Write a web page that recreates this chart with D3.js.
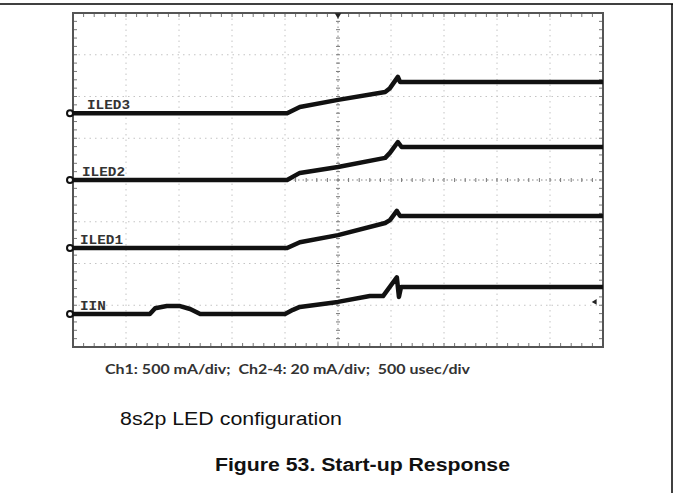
<!DOCTYPE html>
<html><head><meta charset="utf-8">
<script src="https://cdn.jsdelivr.net/npm/d3@7"></script>
<style>html,body{margin:0;padding:0;background:#fff;}svg{display:block;}</style>
</head><body><svg id="c" width="677" height="493"></svg>
<script>
// time in divisions (500 usec/div), level in divisions from screen centre
const channels = ["ILED3", "ILED2", "ILED1", "IIN"];
const iled3T = [0, 4.04, 4.28, 5.0, 5.89, 5.98, 6.13, 6.17, 10];
const iled3V = [1.6, 1.6, 1.75, 1.92, 2.11, 2.2, 2.47, 2.35, 2.35];
const iled2T = [0, 4.04, 4.28, 5.0, 5.89, 5.98, 6.13, 6.2, 10];
const iled2V = [0, 0, 0.17, 0.31, 0.53, 0.65, 0.91, 0.79, 0.79];
const iled1T = [0, 4.04, 4.28, 5.0, 5.89, 5.98, 6.11, 6.17, 10];
const iled1V = [-1.63, -1.63, -1.49, -1.32, -1.03, -0.96, -0.74, -0.86, -0.86];
const iinT = [0, 1.45, 1.55, 1.77, 2.02, 2.21, 2.4, 4.0, 4.15, 4.28, 5.0, 5.6, 5.85, 6.11, 6.15, 6.19, 10];
const iinV = [-3.21, -3.21, -3.07, -3.02, -3.02, -3.09, -3.21, -3.21, -3.11, -3.04, -2.92, -2.78, -2.78, -2.33, -2.8, -2.56, -2.56];
const groundLevels = [1.6, 0, -1.63, -3.21];
const xDivs = d3.range(0, 11);
const yDivs = d3.range(-4, 5);
const caption = "Ch1: 500 mA/div;  Ch2-4: 20 mA/div;  500 usec/div";
const subtitle = "8s2p LED configuration";
const title = "Figure 53. Start-up Response";

const svg = d3.select("#c");
// page frame
svg.append("line").attr("x1", 0).attr("x2", 673).attr("y1", 4).attr("y2", 4).attr("stroke", "#000").attr("stroke-width", 1.5);
svg.append("line").attr("x1", 672).attr("x2", 672).attr("y1", 4).attr("y2", 493).attr("stroke", "#000").attr("stroke-width", 1.5);

const x = d3.scaleLinear().domain([0, 10]).range([73, 603]);
const y = d3.scaleLinear().domain([4, -4]).range([13, 347]);

const g = svg.append("g");
// dotted grid
g.selectAll(".gx").data(xDivs.slice(1, -1)).join("line")
  .attr("x1", d => x(d)).attr("x2", d => x(d)).attr("y1", y(4)).attr("y2", y(-4))
  .attr("stroke", d => d === 5 ? "#888" : "#c4c4c4").attr("stroke-width", 1)
  .attr("stroke-dasharray", d => d === 5 ? "1.5,3" : "1.5,4");
g.selectAll(".gy").data(yDivs.slice(1, -1)).join("line")
  .attr("y1", d => y(d)).attr("y2", d => y(d)).attr("x1", x(0)).attr("x2", x(10))
  .attr("stroke", d => d === 0 ? "#888" : "#c4c4c4").attr("stroke-width", 1)
  .attr("stroke-dasharray", d => d === 0 ? "1.5,3" : "1.5,4");

// minor ticks on border and centre axes
const xMinor = d3.range(0, 50).map(i => i / 5);
const yMinor = d3.range(-20, 21).map(i => i / 5);
const tk = [];
xMinor.forEach(t => {
  tk.push([x(t), y(4), x(t), y(4) + 4]);
  tk.push([x(t), y(-4), x(t), y(-4) - 4]);
  tk.push([x(t), y(0) - 2, x(t), y(0) + 2]);
});
yMinor.forEach(v => {
  tk.push([x(0), y(v), x(0) + 4, y(v)]);
  tk.push([x(10), y(v), x(10) - 4, y(v)]);
  tk.push([x(5) - 2, y(v), x(5) + 2, y(v)]);
});
g.selectAll(".tk").data(tk).join("line")
  .attr("x1", d => d[0]).attr("y1", d => d[1]).attr("x2", d => d[2]).attr("y2", d => d[3])
  .attr("stroke", "#777").attr("stroke-width", 1);

// border
g.append("rect").attr("x", x(0)).attr("y", y(4)).attr("width", x(10) - x(0)).attr("height", y(-4) - y(4))
  .attr("fill", "none").attr("stroke", "#555").attr("stroke-width", 2);
g.append("path").attr("d", d3.symbol(d3.symbolTriangle, 18)()).attr("transform", `translate(${x(5)},${y(4) + 2}) rotate(180)`).attr("fill", "#222");

// traces
const series = [[iled3T, iled3V], [iled2T, iled2V], [iled1T, iled1V], [iinT, iinV]];
const line = d3.line().x(d => x(d[0])).y(d => y(d[1]));
series.forEach(([T, V]) => {
  g.append("path").datum(T.map((t, i) => [t, V[i]])).attr("d", line)
    .attr("fill", "none").attr("stroke", "#111").attr("stroke-width", 4.5)
    .attr("stroke-linejoin", "round").attr("stroke-linecap", "butt");
});
// ground markers
g.selectAll(".gm").data(groundLevels).join("circle")
  .attr("cx", x(0) - 3).attr("cy", d => y(d)).attr("r", 3)
  .attr("fill", "#fff").attr("stroke", "#111").attr("stroke-width", 2);
// trigger marker on right
g.append("path").attr("d", d3.symbol(d3.symbolTriangle, 14)())
  .attr("transform", `translate(${x(10) - 8},${y(-2.92)}) rotate(-90)`).attr("fill", "#222");

// channel labels
const labelX = [87, 82, 80, 80];
g.selectAll(".lb").data(channels).join("text")
  .attr("x", (d, i) => labelX[i]).attr("y", (d, i) => y(groundLevels[i]) - 4)
  .attr("font-family", "Liberation Mono, monospace").attr("font-size", 12).attr("font-weight", "bold")
  .attr("fill", "#333").attr("textLength", d => d.length * 8.6).attr("lengthAdjust", "spacingAndGlyphs")
  .text(d => d);

// captions
svg.append("text").attr("x", 105).attr("y", 374).attr("font-family", "Lato, 'Open Sans', sans-serif")
  .attr("font-size", 13.5).attr("font-weight", "bold").attr("fill", "#333")
  .attr("textLength", 365).attr("lengthAdjust", "spacingAndGlyphs").style("white-space", "pre").text(caption);
svg.append("text").attr("x", 120).attr("y", 425).attr("font-family", "Liberation Sans, Arial, sans-serif")
  .attr("font-size", 18).attr("fill", "#111").attr("textLength", 222).attr("lengthAdjust", "spacingAndGlyphs").text(subtitle);
svg.append("text").attr("x", 215).attr("y", 471).attr("font-family", "Liberation Sans, Arial, sans-serif")
  .attr("font-size", 17.5).attr("font-weight", "bold").attr("fill", "#111").attr("textLength", 295).attr("lengthAdjust", "spacingAndGlyphs").text(title);
</script></body></html>
